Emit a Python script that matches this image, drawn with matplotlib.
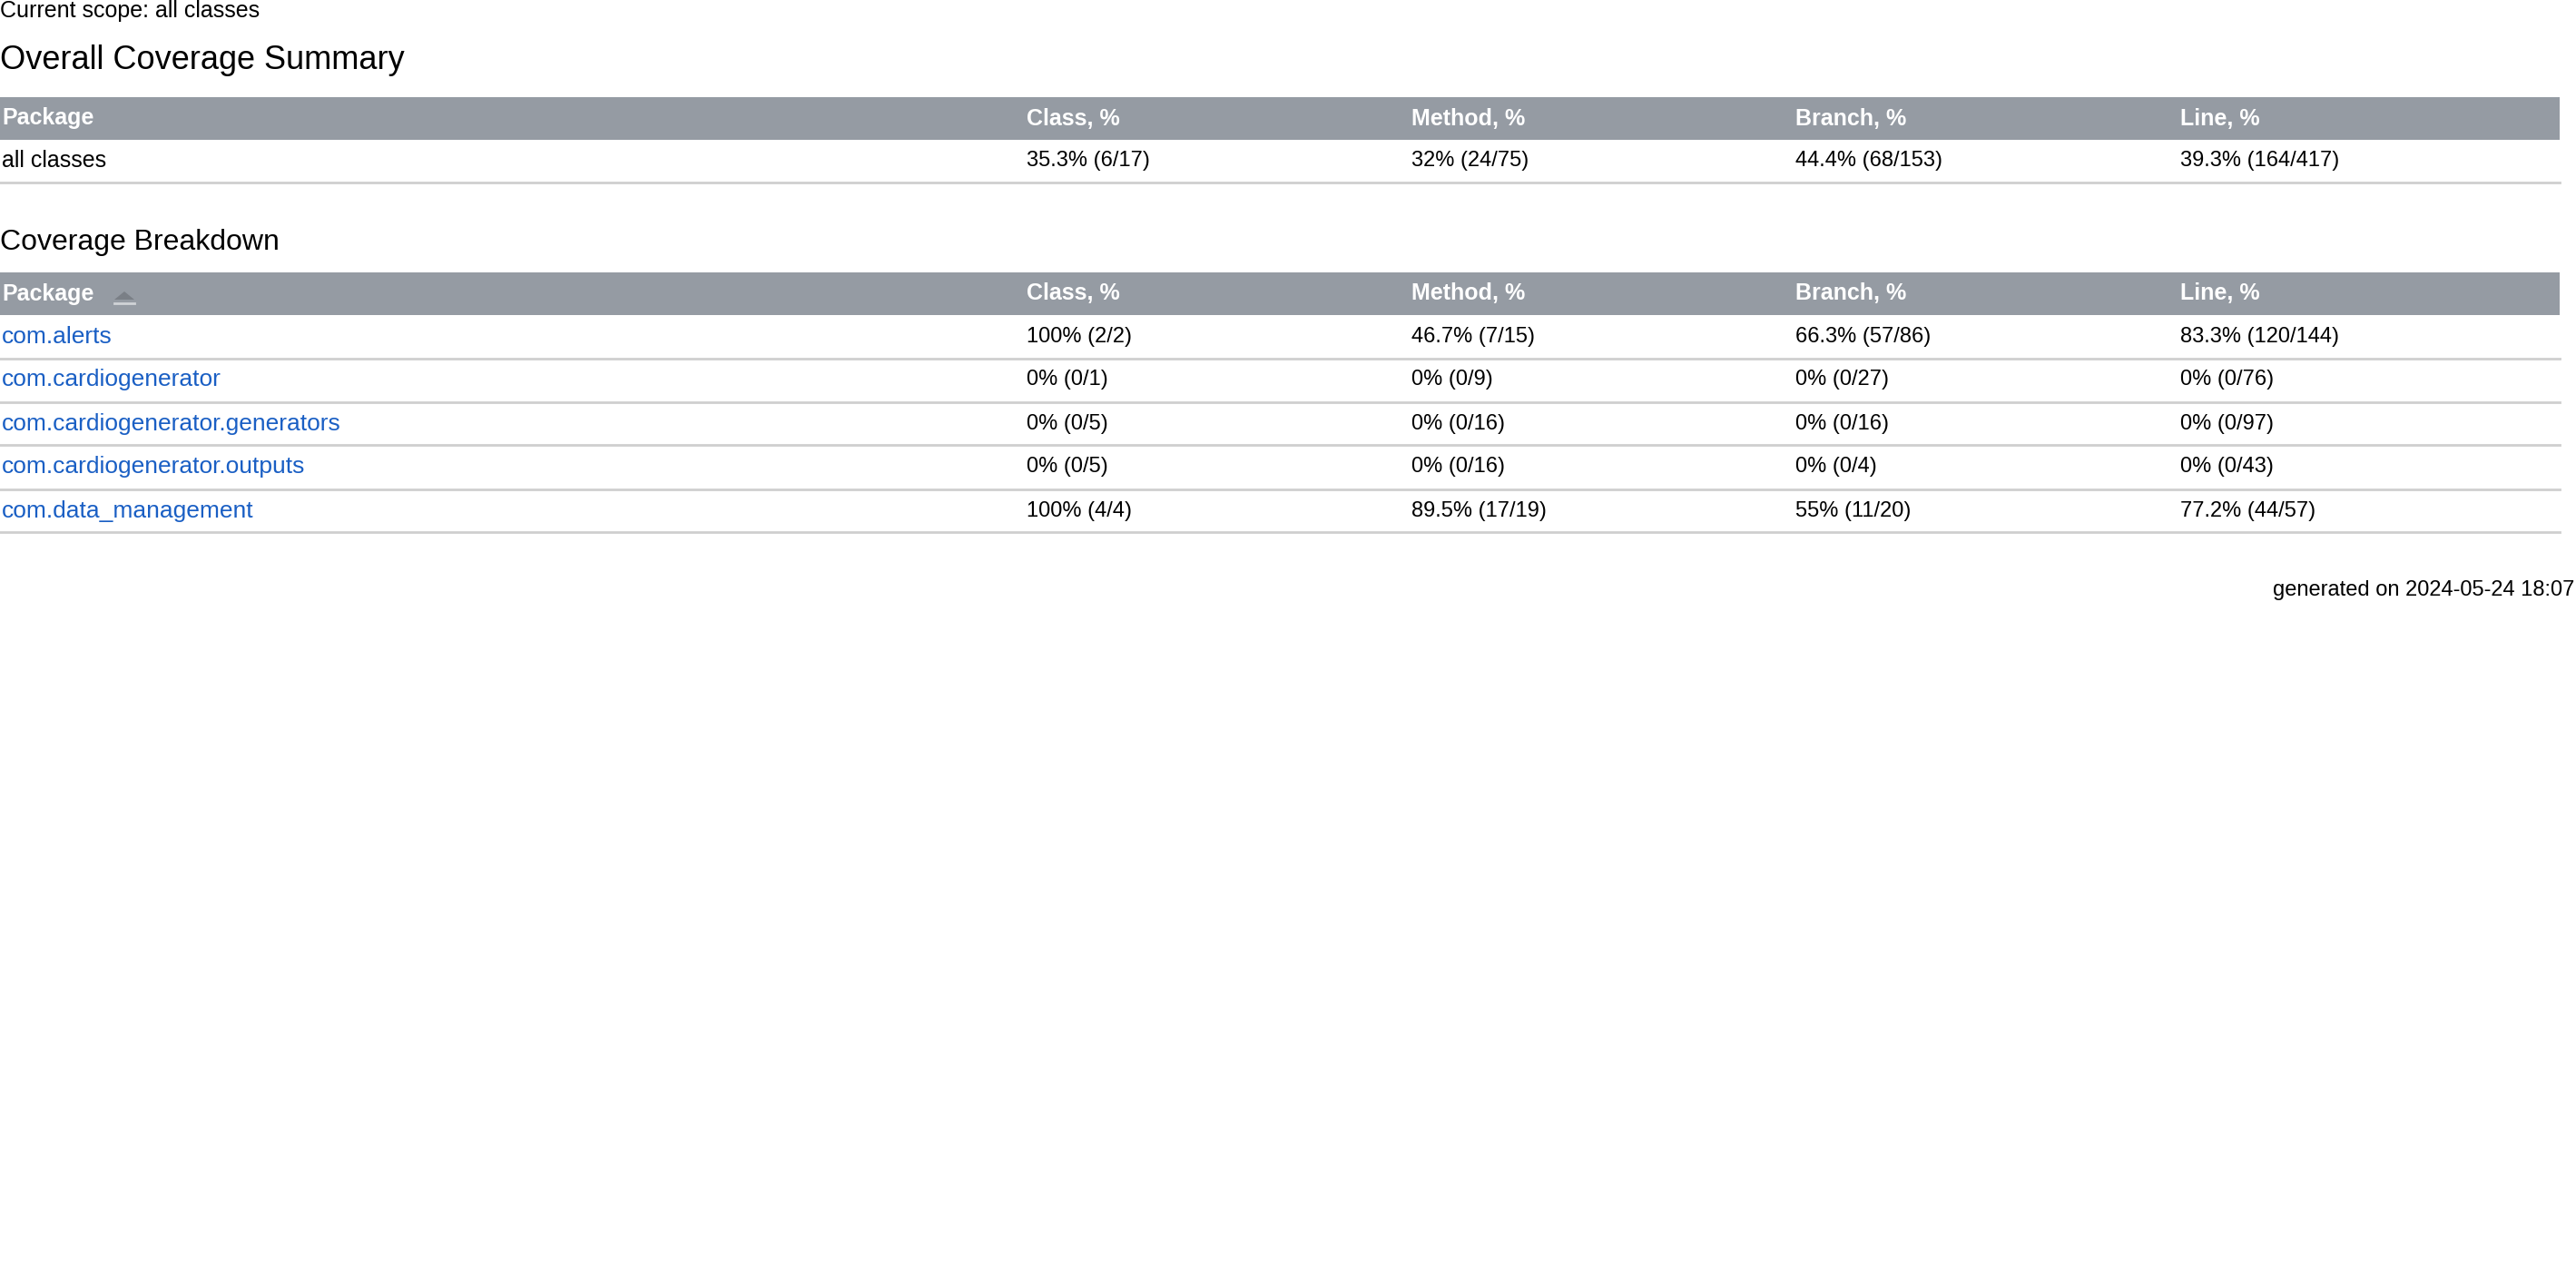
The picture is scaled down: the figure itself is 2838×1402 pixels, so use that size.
import matplotlib.pyplot as plt
from matplotlib.patches import Rectangle, Polygon

plt.rcParams['font.family'] = ['Liberation Sans', 'DejaVu Sans']

W, H = 2838, 1402
columns = ['Package', 'Class, %', 'Method, %', 'Branch, %', 'Line, %']
col_x = [2, 1131, 1555, 1978, 2402]

summary_row = ['all classes', '35.3% (6/17)', '32% (24/75)', '44.4% (68/153)', '39.3% (164/417)']

packages = ['com.alerts', 'com.cardiogenerator', 'com.cardiogenerator.generators',
            'com.cardiogenerator.outputs', 'com.data_management']
class_cov = ['100% (2/2)', '0% (0/1)', '0% (0/5)', '0% (0/5)', '100% (4/4)']
method_cov = ['46.7% (7/15)', '0% (0/9)', '0% (0/16)', '0% (0/16)', '89.5% (17/19)']
branch_cov = ['66.3% (57/86)', '0% (0/27)', '0% (0/16)', '0% (0/4)', '55% (11/20)']
line_cov = ['83.3% (120/144)', '0% (0/76)', '0% (0/97)', '0% (0/43)', '77.2% (44/57)']

HEAD = '#959ba3'
LINK = '#1a5fc4'
RULE = '#cfcfcf'

fig = plt.figure(figsize=(W / 100, H / 100), dpi=100)
ax = fig.add_axes([0, 0, 1, 1])
ax.set_xlim(0, W)
ax.set_ylim(H, 0)
ax.axis('off')

ax.text(0, 12, 'Current scope: all classes', fontsize=18, va='center')
ax.text(0, 66, 'Overall Coverage Summary', fontsize=26, va='center')

def header(y0, y1, arrow=False):
    ax.add_patch(Rectangle((0, y0), 2820, y1 - y0, color=HEAD, lw=0))
    yc = (y0 + y1) / 2
    for x, c in zip(col_x, columns):
        ax.text(x, yc, c, fontsize=18, fontweight='bold', color='white', va='center')
    if arrow:
        ax.add_patch(Polygon([[126, 330], [148, 330], [137, 321]], closed=True, color='#7a7f86', lw=0))
        ax.plot([126, 148], [334, 334], color='#d0d3d6', lw=2)

header(107, 154)
for x, v in zip(col_x, summary_row):
    ax.text(x, 177, v, fontsize=18 if x == 2 else 17, va='center')
ax.plot([0, 2820], [201, 201], color=RULE, lw=2)

ax.text(0, 267, 'Coverage Breakdown', fontsize=23, va='center')
header(300, 347, arrow=True)

row_y = [371, 418, 467, 514, 563]
line_y = [395, 443, 490, 539, 586]
for i, p in enumerate(packages):
    y = row_y[i]
    ax.text(col_x[0], y, p, fontsize=19, color=LINK, va='center')
    for x, v in zip(col_x[1:], [class_cov[i], method_cov[i], branch_cov[i], line_cov[i]]):
        ax.text(x, y, v, fontsize=17, va='center')
    ax.plot([0, 2820], [line_y[i], line_y[i]], color=RULE, lw=2)

ax.text(W - 2, 650, 'generated on 2024-05-24 18:07', fontsize=17, ha='right', va='center')

fig.savefig('out.png', dpi=100)
